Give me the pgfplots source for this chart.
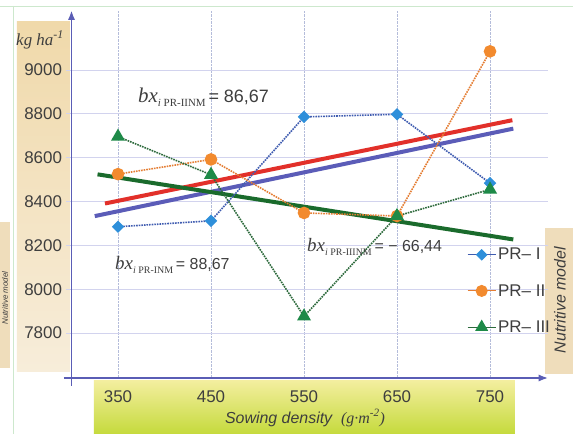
\documentclass[border=0pt]{standalone}
\usepackage{pgfplots}
\pgfplotsset{compat=1.18}
\usepackage{fontspec}
\setmainfont{Liberation Sans}
\newfontfamily\seriff{Liberation Serif}
\usepackage{graphicx}
\usetikzlibrary{arrows.meta}

\definecolor{axisblue}{HTML}{5A5DB5}
\definecolor{gridlav}{HTML}{D2D3EE}
\definecolor{vgrid}{HTML}{B4BCDA}
\definecolor{tantop}{HTML}{F0D9AA}
\definecolor{tanbot}{HTML}{F7EDDA}
\definecolor{tanbox}{HTML}{EFDDBB}
\definecolor{greenframe}{HTML}{CDE8CD}
\definecolor{ylwtop}{HTML}{F3EE9E}
\definecolor{ylwbot}{HTML}{C5DA3C}
\definecolor{textgray}{HTML}{3E3E3E}
\definecolor{blueM}{HTML}{2E8FDA}
\definecolor{blueL}{HTML}{3F5CB0}
\definecolor{orangeM}{HTML}{F28A2E}
\definecolor{orangeL}{HTML}{E57E34}
\definecolor{greenM}{HTML}{1E8A48}
\definecolor{greenL}{HTML}{2D6A3C}
\definecolor{trRed}{HTML}{E2302A}
\definecolor{trBlue}{HTML}{5B5CB8}
\definecolor{trGreen}{HTML}{1A6B2C}

\begin{document}
\begin{tikzpicture}
\useasboundingbox (-71.5bp,-56bp) rectangle (501.5bp,378bp);
\begin{scope}[x=1bp,y=-1bp,shift={(-71.5bp,378bp)}]
  \fill[white] (0,0) rectangle (573,434);
  \draw[greenframe, line width=0.8bp] (0,6)--(573,6);
  \draw[greenframe, line width=0.8bp] (13,6)--(13,434);
  \shade[top color=tantop, bottom color=tanbot] (17,22) rectangle (70,372);
  \fill[tanbox] (0,222) rectangle (10,368);
  \node[rotate=90, text=textgray, inner sep=0, font=\fontsize{8}{8}\selectfont\itshape] at (5,298) {Nutritive model};
  \fill[tanbox] (545,228) rectangle (573,374);
  \node[rotate=90, text=textgray, font=\fontsize{16}{16}\selectfont\itshape] at (560,300) {Nutritive model};
  \shade[top color=ylwtop, bottom color=ylwbot] (94,381) rectangle (515,434);
  \node[text=textgray, font=\fontsize{16}{16}\selectfont] at (305,418) {\itshape Sowing density\ \ {\seriff\itshape (g·m\textsuperscript{-2})}};
  \node[text=textgray, font=\fontsize{17}{17}\selectfont] at (40,40) {\seriff\itshape kg ha\textsuperscript{-1}};
  \draw[axisblue, line width=1.1bp] (71.5,378)--(71.5,386);
  \draw[axisblue, line width=1.1bp] (64,378)--(71.5,378);
\end{scope}

\begin{axis}[
  at={(0,0)}, anchor=south west, scale only axis,
  width=476.2bp, height=367.2bp,
  xmin=300, xmax=812, ymin=7595, ymax=9270,
  axis lines=left,
  axis line style={draw=axisblue, line width=1.1bp, -{Latex[length=9bp,width=7bp]}},
  xtick={350,450,550,650,750}, ytick={7800,8000,8200,8400,8600,8800,9000},
  xmajorgrids, ymajorgrids,
  x grid style={vgrid, densely dotted, line width=0.9bp},
  y grid style={gridlav, line width=0.9bp},
  xtick style={draw=none},
  ytick style={draw=gridlav, line width=0.9bp},
  tick align=outside, major tick length=5bp,
  /pgf/number format/assume math mode=true,
  /pgf/number format/set thousands separator={},
  xticklabel style={font=\fontsize{17}{17}\selectfont, text=textgray, yshift=-4bp},
  yticklabel style={font=\fontsize{17}{17}\selectfont, text=textgray, xshift=-1bp},
  clip=false,
  legend style={at={(axis cs:722,8206)}, anchor=north west, draw=none, fill=none,
    font=\fontsize{17}{17}\selectfont, text=textgray, row sep=19bp},
  legend cell align=left,
  legend image code/.code={\draw[solid, line width=1bp, mark repeat=2, mark phase=2] plot coordinates {(0bp,0bp) (14bp,0bp) (28bp,0bp)};},
]
% trend lines
\addplot[forget plot, trBlue, line width=4bp] coordinates {(325,8333.5) (775,8732.5)};
\addplot[forget plot, trRed, line width=4bp] coordinates {(336,8391) (774,8771)};
\addplot[forget plot, trGreen, line width=4bp] coordinates {(328,8524) (775,8227)};
% series
\addplot[blueL, densely dotted, line width=1.6bp, mark=square*, mark size=3.6bp,
  mark options={solid, rotate=45, fill=blueM, draw=blueM}]
  coordinates {(350,8285) (450,8312) (550,8786) (650,8798) (750,8484)};
\addlegendentry{PR– I}
\addplot[orangeL, densely dotted, line width=1.6bp, mark=*, mark size=5.5bp,
  mark options={solid, fill=orangeM, draw=orangeM}]
  coordinates {(350,8525) (450,8592) (550,8348) (650,8334) (750,9085)};
\addlegendentry{PR– II}
\addplot[greenL, densely dotted, line width=1.6bp, mark=triangle*, mark size=6.5bp,
  mark options={solid, fill=greenM, draw=greenM}]
  coordinates {(350,8696) (450,8522) (550,7876) (650,8334) (750,8455)};
\addlegendentry{PR– III}
\end{axis}

\begin{scope}[x=1bp,y=-1bp,shift={(-71.5bp,378bp)}]
  \node[anchor=base west, inner sep=0, text=textgray] at (138,103)
    {{\seriff\itshape\fontsize{21}{21}\selectfont bx}{\seriff\fontsize{11}{11}\selectfont\raisebox{-4bp}{\itshape i\upshape\ PR-IINM}}\ {\fontsize{18}{18}\selectfont = 86,67}};
  \node[anchor=base west, inner sep=0, text=textgray] at (115,270)
    {{\seriff\itshape\fontsize{19}{19}\selectfont bx}{\seriff\fontsize{10}{10}\selectfont\raisebox{-4bp}{\itshape i\upshape\ PR-INM}}\ {\fontsize{16}{16}\selectfont = 88,67}};
  \node[anchor=base west, inner sep=0, text=textgray] at (307,252)
    {{\seriff\itshape\fontsize{19}{19}\selectfont bx}{\seriff\fontsize{10}{10}\selectfont\raisebox{-4bp}{\itshape i\upshape\ PR-IIINM}}\ {\fontsize{16}{16}\selectfont = − 66,44}};
\end{scope}
\end{tikzpicture}
\end{document}
